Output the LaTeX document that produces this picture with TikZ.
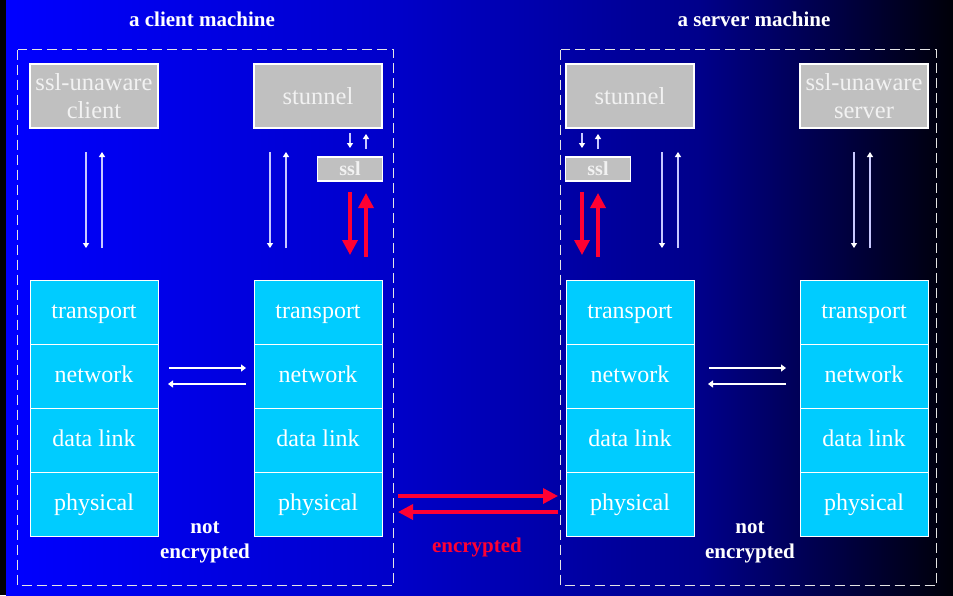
\documentclass[tikz,border=0pt]{standalone}
\usepackage{fontspec}
\setmainfont{Liberation Serif}
\usetikzlibrary{arrows.meta,positioning}
\definecolor{bgA}{HTML}{0000FF}
\definecolor{bgB}{HTML}{0000C8}
\definecolor{bgC}{HTML}{00008A}
\definecolor{bgD}{HTML}{000008}
\definecolor{appgray}{HTML}{C0C0C0}
\definecolor{apptext}{HTML}{F2F2F2}
\definecolor{layer}{HTML}{00CCFF}
\definecolor{lav}{HTML}{C8C8FF}
\definecolor{enc}{HTML}{FF0033}
\tikzset{
  app/.style={draw=white, line width=1.2pt, fill=appgray, text=apptext, minimum width=128pt, minimum height=64pt, inner sep=0pt, outer sep=0pt, align=center, font=\fontsize{24.5}{28}\selectfont},
  sslbox/.style={draw=white, line width=1.2pt, fill=appgray, text=apptext, minimum width=65pt, minimum height=24pt, inner sep=0pt, outer sep=0pt, font=\fontsize{20}{22}\selectfont\bfseries},
  layerbox/.style={draw=white, line width=0.9pt, fill=layer, text=white, minimum width=128pt, minimum height=64pt, inner sep=0pt, outer sep=0pt, text height=17pt, text depth=5pt, font=\fontsize{24}{28}\selectfont},
  machine/.style={draw=white!90!black, line width=1.3pt, dash pattern=on 10pt off 5pt},
  title/.style={text=white, font=\fontsize{21}{25}\selectfont\bfseries, align=center},
  warrow/.style={draw=lav, line width=2pt, -{Triangle[length=5pt,width=6pt,color=white]}},
  narrow/.style={draw=white, line width=1.4pt, -{Triangle[length=5pt,width=7pt]}},
  rarrow/.style={draw=enc, line width=3.4pt, -{Triangle[length=15pt,width=15pt]}}
}
\begin{document}
\begin{tikzpicture}[x=1pt,y=-1pt]
  \useasboundingbox (0,0) rectangle (953,595);

  % background
  \fill[black] (0,0) rectangle (953,595);
  \shade[left color=bgA, right color=bgB] (6,0) rectangle (400.5,595);
  \shade[left color=bgB, right color=bgC] (400,0) rectangle (700.5,595);
  \shade[left color=bgC, right color=bgD] (700,0) rectangle (953,595);

  % the two machines
  \draw[machine] (17.5,49.5) rectangle (393.5,585.5);
  \draw[machine] (560.5,49.5) rectangle (936.5,585.5);
  \node[title] (ttlC) at (202,19) {a client machine};
  \node[title] (ttlS) at (754,19) {a server machine};

  % applications
  \node[app] (cli) at (94,96) {ssl-unaware\\client};
  \node[app] (stunL) at (318,96) {stunnel};
  \node[sslbox] (sslL) at (350,169) {ssl};
  \node[app] (stunR) at (630,96) {stunnel};
  \node[sslbox] (sslR) at (598,169) {ssl};
  \node[app] (srv) at (864,96) {ssl-unaware\\server};

  % protocol stacks
  \foreach \s/\x in {C/94,L/318,R/630,S/864}{
    \node[layerbox] (tp\s) at (\x,312) {transport};
    \node[layerbox, below=0pt of tp\s] (nw\s) {network};
    \node[layerbox, below=0pt of nw\s] (dl\s) {data link};
    \node[layerbox, below=0pt of dl\s] (ph\s) {physical};
  }

  % app <-> transport
  \draw[warrow] ([xshift=-8pt,yshift=-24pt]cli.south) -- ([xshift=-8pt,yshift=32pt]tpC.north);
  \draw[warrow] ([xshift=8pt,yshift=32pt]tpC.north) -- ([xshift=8pt,yshift=-24pt]cli.south);
  \draw[warrow] ([xshift=-48pt,yshift=-24pt]stunL.south) -- ([xshift=-48pt,yshift=32pt]tpL.north);
  \draw[warrow] ([xshift=-32pt,yshift=32pt]tpL.north) -- ([xshift=-32pt,yshift=-24pt]stunL.south);
  \draw[warrow] ([xshift=32pt,yshift=-24pt]stunR.south) -- ([xshift=32pt,yshift=32pt]tpR.north);
  \draw[warrow] ([xshift=48pt,yshift=32pt]tpR.north) -- ([xshift=48pt,yshift=-24pt]stunR.south);
  \draw[warrow] ([xshift=-10pt,yshift=-24pt]srv.south) -- ([xshift=-10pt,yshift=32pt]tpS.north);
  \draw[warrow] ([xshift=6pt,yshift=32pt]tpS.north) -- ([xshift=6pt,yshift=-24pt]srv.south);

  % stunnel <-> ssl
  \draw[warrow] ([xshift=32pt,yshift=-5pt]stunL.south) -- ([yshift=9pt]sslL.north);
  \draw[warrow] ([xshift=16pt,yshift=8pt]sslL.north) -- ([xshift=48pt,yshift=-6pt]stunL.south);
  \draw[warrow] ([xshift=-48pt,yshift=-5pt]stunR.south) -- ([xshift=-16pt,yshift=9pt]sslR.north);
  \draw[warrow] ([yshift=8pt]sslR.north) -- ([xshift=-32pt,yshift=-6pt]stunR.south);

  % ssl <-> transport
  \draw[rarrow] ([yshift=-11pt]sslL.south) -- ([xshift=32pt,yshift=25pt]tpL.north);
  \draw[rarrow] ([xshift=48pt,yshift=23pt]tpL.north) -- ([xshift=16pt,yshift=-12pt]sslL.south);
  \draw[rarrow] ([xshift=-16pt,yshift=-11pt]sslR.south) -- ([xshift=-48pt,yshift=25pt]tpR.north);
  \draw[rarrow] ([xshift=-32pt,yshift=23pt]tpR.north) -- ([yshift=-12pt]sslR.south);

  % network <-> network
  \draw[narrow] ([xshift=11pt,yshift=8pt]nwC.east) -- ([xshift=-8pt,yshift=8pt]nwL.west);
  \draw[narrow] ([xshift=-8pt,yshift=-8pt]nwL.west) -- ([xshift=10pt,yshift=-8pt]nwC.east);
  \draw[narrow] ([xshift=15pt,yshift=8pt]nwR.east) -- ([xshift=-14pt,yshift=8pt]nwS.west);
  \draw[narrow] ([xshift=-14pt,yshift=-8pt]nwS.west) -- ([xshift=14pt,yshift=-8pt]nwR.east);

  % physical link
  \draw[rarrow] ([xshift=16pt,yshift=8pt]phL.east) -- ([xshift=-8pt,yshift=8pt]phR.west);
  \draw[rarrow] ([xshift=-8pt,yshift=-8pt]phR.west) -- ([xshift=16pt,yshift=-8pt]phL.east);

  \node[title] (neC) at (205,542) {not\\encrypted};
  \node[title] (neS) at (750,542) {not\\encrypted};
  \node[title, text=enc] (encL) at (477,547) {encrypted};
\end{tikzpicture}
\end{document}
